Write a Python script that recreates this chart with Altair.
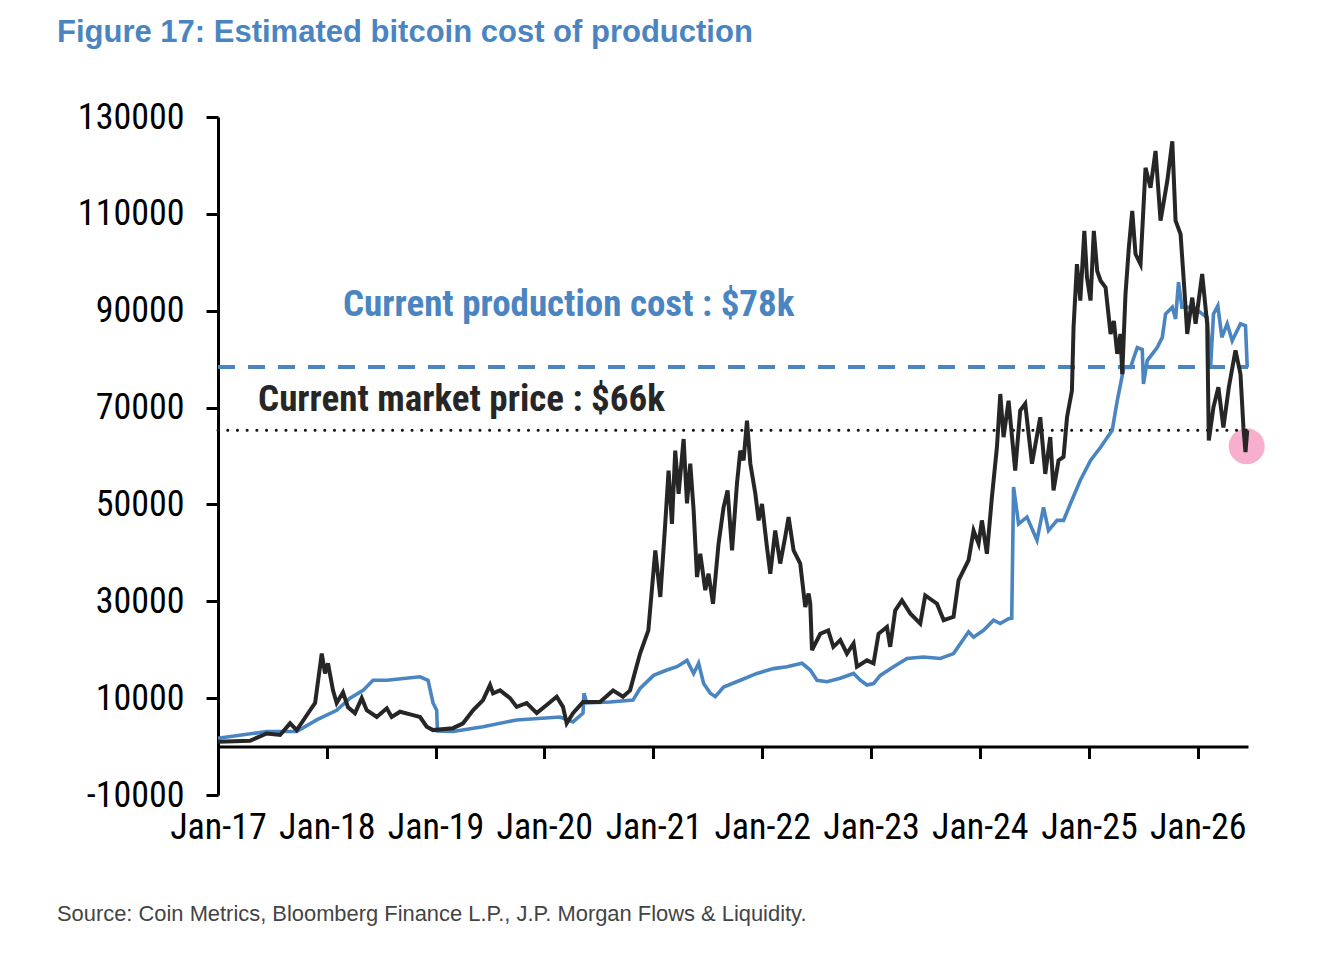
import altair as alt
import pandas as pd

# ---------------- data ----------------
# bitcoin market price: (decimal year, USD)
price_points = [
    (2017.000, 1000), (2017.294, 1200), (2017.448, 2700), (2017.570, 2400), (2017.662, 4800),
    (2017.723, 3400), (2017.846, 7500), (2017.892, 9000), (2017.953, 19200), (2017.983, 15100),
    (2018.011, 17200), (2018.057, 11600), (2018.091, 9000), (2018.149, 11200), (2018.195, 8100),
    (2018.259, 6900), (2018.321, 10000), (2018.367, 7500), (2018.459, 6100), (2018.551, 7900),
    (2018.596, 6100), (2018.673, 7200), (2018.792, 6500), (2018.857, 6100), (2018.918, 4100),
    (2018.976, 3400), (2019.160, 3800), (2019.252, 4800), (2019.344, 7500), (2019.436, 9600),
    (2019.500, 12700), (2019.528, 11000), (2019.592, 11600), (2019.684, 10000), (2019.745, 8200),
    (2019.837, 9000), (2019.929, 6900), (2020.021, 8600), (2020.113, 10300), (2020.171, 8200),
    (2020.205, 4800), (2020.263, 6900), (2020.355, 9200), (2020.511, 9200), (2020.631, 11600),
    (2020.722, 10300), (2020.787, 11600), (2020.879, 19200), (2020.955, 24000), (2021.017, 40500),
    (2021.063, 30900), (2021.108, 46000), (2021.139, 57000), (2021.170, 46000), (2021.200, 61100),
    (2021.231, 52200), (2021.277, 63500), (2021.308, 50200), (2021.338, 58400), (2021.369, 48800),
    (2021.400, 35000), (2021.430, 39800), (2021.476, 32300), (2021.506, 35700), (2021.547, 29500),
    (2021.598, 41900), (2021.644, 49400), (2021.681, 52900), (2021.722, 40500), (2021.767, 54300),
    (2021.798, 61100), (2021.828, 59100), (2021.859, 67300), (2021.890, 58400), (2021.936, 52200),
    (2021.966, 46700), (2021.997, 50100), (2022.043, 41200), (2022.074, 35700), (2022.119, 44600),
    (2022.165, 37800), (2022.211, 43300), (2022.242, 47400), (2022.288, 40500), (2022.349, 37800),
    (2022.395, 28800), (2022.426, 31600), (2022.441, 29500), (2022.457, 19900), (2022.533, 23300),
    (2022.606, 24000), (2022.653, 20600), (2022.717, 22000), (2022.778, 19200), (2022.839, 21300),
    (2022.870, 16500), (2022.962, 17800), (2023.023, 17200), (2023.069, 23300), (2023.146, 24700),
    (2023.176, 20600), (2023.222, 28100), (2023.284, 30200), (2023.360, 27500), (2023.452, 25400),
    (2023.498, 31200), (2023.606, 29500), (2023.667, 26100), (2023.758, 26800), (2023.804, 34300),
    (2023.896, 38500), (2023.942, 44600), (2023.988, 41900), (2024.019, 46700), (2024.065, 39800),
    (2024.111, 51500), (2024.157, 61800), (2024.188, 72800), (2024.218, 63900), (2024.264, 71400),
    (2024.325, 57000), (2024.371, 69400), (2024.417, 70800), (2024.479, 58400), (2024.555, 68000),
    (2024.601, 56300), (2024.647, 63900), (2024.677, 52900), (2024.723, 59100), (2024.769, 59800),
    (2024.801, 68000), (2024.846, 73500), (2024.861, 86600), (2024.892, 99600), (2024.923, 92100),
    (2024.960, 106500), (2024.984, 96900), (2025.015, 92100), (2025.045, 106500), (2025.076, 98200),
    (2025.107, 96200), (2025.153, 94800), (2025.199, 85200), (2025.229, 87900), (2025.260, 81100),
    (2025.290, 85200), (2025.306, 76900), (2025.336, 93400), (2025.367, 103100), (2025.398, 110600),
    (2025.428, 101700), (2025.474, 99600), (2025.520, 119500), (2025.566, 115400), (2025.612, 123000),
    (2025.658, 108600), (2025.720, 116800), (2025.766, 125000), (2025.796, 108600), (2025.842, 105800),
    (2025.888, 90700), (2025.903, 85200), (2025.949, 92700), (2025.980, 87300), (2026.041, 97600),
    (2026.087, 87300), (2026.102, 63200), (2026.145, 70100), (2026.190, 74200), (2026.236, 65900),
    (2026.286, 74200), (2026.347, 81800), (2026.393, 76900), (2026.420, 65900), (2026.439, 60800),
    (2026.455, 65300),
]

# estimated cost of production: (decimal year, USD)
cost_points = [
    (2017.000, 1700), (2017.448, 3100), (2017.723, 3100), (2017.907, 5500), (2018.091, 7500),
    (2018.213, 10000), (2018.333, 11600), (2018.425, 13700), (2018.551, 13700), (2018.857, 14400),
    (2018.930, 13700), (2018.976, 9000), (2019.010, 7500), (2019.017, 3200), (2019.160, 3100),
    (2019.436, 4100), (2019.745, 5500), (2020.143, 6100), (2020.263, 5100), (2020.355, 6900),
    (2020.364, 11000), (2020.389, 9000), (2020.603, 9200), (2020.814, 9600), (2020.879, 12000),
    (2021.001, 14700), (2021.124, 15800), (2021.216, 16500), (2021.308, 17800), (2021.369, 15100),
    (2021.415, 17200), (2021.461, 13000), (2021.522, 11000), (2021.568, 10300), (2021.644, 12300),
    (2021.798, 13700), (2021.951, 15100), (2022.104, 16100), (2022.227, 16500), (2022.365, 17200),
    (2022.441, 15800), (2022.503, 13700), (2022.595, 13400), (2022.717, 14100), (2022.839, 15100),
    (2022.901, 13700), (2022.962, 12700), (2023.023, 13000), (2023.085, 14700), (2023.207, 16500),
    (2023.330, 18200), (2023.483, 18500), (2023.636, 18200), (2023.758, 19200), (2023.896, 23700),
    (2023.942, 22600), (2024.034, 24000), (2024.126, 26100), (2024.188, 25400), (2024.264, 26400),
    (2024.293, 26500), (2024.310, 53600), (2024.356, 46000), (2024.433, 47400), (2024.525, 42600),
    (2024.585, 49400), (2024.631, 44600), (2024.709, 46700), (2024.769, 46700), (2024.831, 50100),
    (2024.923, 55000), (2025.015, 59100), (2025.107, 61800), (2025.214, 65300), (2025.260, 71400),
    (2025.321, 78300), (2025.382, 78300), (2025.444, 82400), (2025.490, 82000), (2025.501, 74900),
    (2025.536, 79700), (2025.627, 82400), (2025.674, 84500), (2025.704, 89300), (2025.766, 90700),
    (2025.796, 88300), (2025.823, 95900), (2025.854, 90700), (2025.960, 90700), (2026.087, 88600),
    (2026.118, 78300), (2026.145, 89300), (2026.185, 91000), (2026.222, 84500), (2026.271, 87300),
    (2026.317, 83800), (2026.347, 85200), (2026.393, 87300), (2026.439, 86900), (2026.455, 78300),
]

production_cost_level = 78400
market_price_level = 65300
marker_year, marker_usd = 2026.45, 62000

ticks_year = list(range(2017, 2027))
y_ticks = [-10000, 10000, 30000, 50000, 70000, 90000, 110000, 130000]

title_text = "Figure 17: Estimated bitcoin cost of production"
cost_label = "Current production cost : $78k"
price_label = "Current market price : $66k"
cost_label_pos = (2018.149, 91240)
price_label_pos = (2017.368, 71650)
source_text = "Source: Coin Metrics, Bloomberg Finance L.P., J.P. Morgan Flows & Liquidity."

# ---------------- helpers ----------------
def to_date(y):
    yr = int(y)
    return pd.Timestamp(yr, 1, 1) + pd.Timedelta(days=(y - yr) * 365.25)

price_df = pd.DataFrame({"date": [to_date(t) for t, _ in price_points],
                         "usd": [v for _, v in price_points]})
cost_df = pd.DataFrame({"date": [to_date(t) for t, _ in cost_points],
                        "usd": [v for _, v in cost_points]})
x_start = pd.Timestamp(2017, 1, 1)
x_end = to_date(2026.462)
levels_df = pd.DataFrame({"start": [x_start, x_start], "end": [x_end, x_end],
                          "usd": [production_cost_level, market_price_level],
                          "kind": ["cost", "price"]})
marker_df = pd.DataFrame({"date": [to_date(marker_year)], "usd": [marker_usd]})
labels_df = pd.DataFrame({"date": [to_date(cost_label_pos[0]), to_date(price_label_pos[0])],
                          "usd": [cost_label_pos[1], price_label_pos[1]],
                          "text": [cost_label, price_label],
                          "color": ["#4a85c1", "#262626"]})
tick_dates = [pd.Timestamp(y, 1, 1).isoformat() for y in ticks_year]

BLUE = "#4a85c1"
NARROW = "Roboto Condensed, Liberation Sans Narrow, Arial Narrow, Liberation Sans, sans-serif"

x_scale = alt.Scale(domain=[x_start.isoformat(), x_end.isoformat()])
y_scale = alt.Scale(domain=[-10000, 130000], nice=False, zero=False)

x_enc = alt.X("date:T", scale=x_scale, title=None,
              axis=alt.Axis(values=tick_dates, format="%b-%y", offset=-48.5,
                            labelFont=NARROW, labelFontSize=36, labelColor="black",
                            labelPadding=52, labelOverlap=False, labelFlush=False,
                            tickSize=12, tickWidth=3, tickColor="black",
                            domainWidth=3, domainColor="black", grid=False))
y_enc = alt.Y("usd:Q", scale=y_scale, title=None,
              axis=alt.Axis(values=y_ticks, labelExpr="'' + datum.value",
                            labelFont=NARROW, labelFontSize=36, labelColor="black",
                            labelPadding=22, labelOverlap=False, labelFlush=False,
                            tickSize=12, tickWidth=3, tickColor="black",
                            domainWidth=3, domainColor="black", grid=False))

marker = alt.Chart(marker_df).mark_circle(size=1300, color="#f7a1c4", opacity=0.85).encode(
    x=x_enc, y=y_enc)

cost_rule = alt.Chart(levels_df[levels_df.kind == "cost"]).mark_rule(
    color=BLUE, strokeWidth=4, strokeDash=[17, 13]).encode(
    x="start:T", x2="end:T", y="usd:Q")
price_rule = alt.Chart(levels_df[levels_df.kind == "price"]).mark_rule(
    color="#111111", strokeWidth=3, strokeDash=[0.1, 9.6], strokeCap="round").encode(
    x="start:T", x2="end:T", y="usd:Q")

cost_line = alt.Chart(cost_df).mark_line(color=BLUE, strokeWidth=3.6).encode(
    x="date:T", y="usd:Q")
price_line = alt.Chart(price_df).mark_line(color="#262626", strokeWidth=4).encode(
    x="date:T", y="usd:Q")

labels = alt.Chart(labels_df).mark_text(
    align="left", baseline="middle", font=NARROW, fontSize=37, fontWeight="bold").encode(
    x="date:T", y="usd:Q", text="text:N", color=alt.Color("color:N", scale=None))

source = alt.Chart(pd.DataFrame({"t": [source_text]})).mark_text(
    align="left", baseline="middle", font="Liberation Sans, Arial, sans-serif",
    fontSize=21.9, color="#444444").encode(
    x=alt.value(-161), y=alt.value(797), text="t:N")

chart = alt.layer(marker, cost_rule, price_rule, cost_line, price_line, labels, source).encode(
    x=x_enc, y=y_enc
).properties(
    width=1030, height=678,
    padding={"left": 210, "top": 109, "right": 82, "bottom": 171},
    autosize=alt.AutoSizeParams(type="none"),
    title=alt.Title(title_text, anchor="start", frame="group", dx=-161, offset=50,
                    font="Liberation Sans, Arial, sans-serif", fontSize=31,
                    fontWeight="bold", color=BLUE),
).configure(background="white", view=alt.ViewConfig(stroke=None))

chart.save("out.html", embed_options={"renderer": "svg", "actions": False})
